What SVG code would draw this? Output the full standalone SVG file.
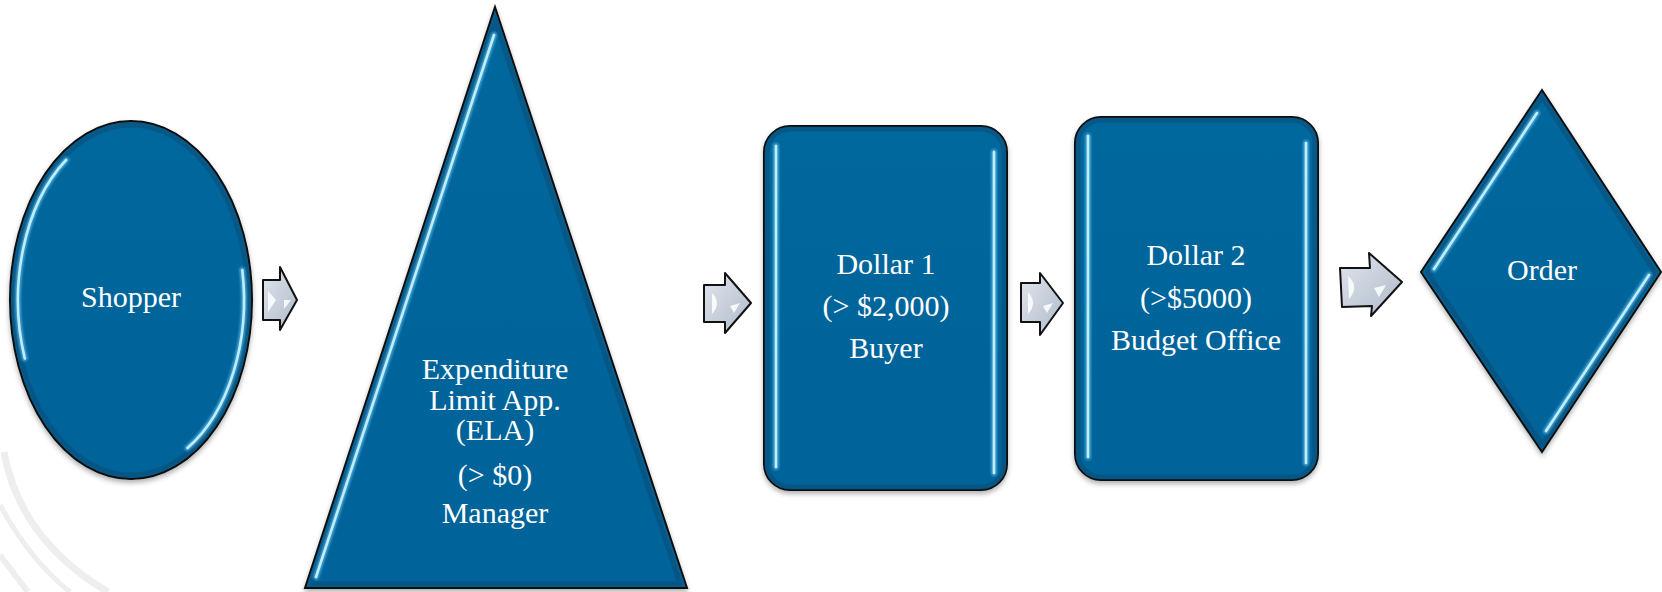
<svg xmlns="http://www.w3.org/2000/svg" width="1662" height="592" viewBox="0 0 1662 592">
<defs>
<style>
.shape{fill:url(#blueFill);stroke:#111;stroke-width:2;filter:url(#shadow)}
.edge{fill:none;stroke:#0b4c74;stroke-width:5;opacity:.55}
.hlw{fill:none;stroke:#5fb9e6;stroke-width:6;stroke-linecap:round;opacity:.7;filter:url(#glow)}
.hl{fill:none;stroke:#bdeeff;stroke-width:2.6;stroke-linecap:round}
.lbl{font-family:"Liberation Serif","DejaVu Serif",serif;font-size:30px;fill:#ffffff;text-anchor:middle}
.arrow{fill:url(#arrowFill);stroke:#111;stroke-width:2;stroke-linejoin:round}
.glint{fill:#ffffff;opacity:.85}
.bg{fill:none;stroke:#eeeeee;stroke-linecap:butt}
</style>
<linearGradient id="blueFill" x1="0" y1="0" x2="0" y2="1">
<stop offset="0" stop-color="#06679d"/>
<stop offset="1" stop-color="#056399"/>
</linearGradient>
<linearGradient id="arrowFill" x1="0" y1="0" x2="1" y2="1">
<stop offset="0" stop-color="#e1e6ee"/>
<stop offset="1" stop-color="#aeb9c9"/>
</linearGradient>
<filter id="shadow" x="-10%" y="-10%" width="120%" height="120%">
<feDropShadow dx="0" dy="3" stdDeviation="2.5" flood-color="#000" flood-opacity=".3"/>
</filter>
<filter id="glow" filterUnits="userSpaceOnUse" x="0" y="0" width="1662" height="592">
<feGaussianBlur stdDeviation="1.2"/>
</filter>
</defs>
<rect width="1662" height="592" fill="#ffffff"/>
<g id="background">
<path class="bg" stroke-width="7" d="M 4 452 Q 20 540 108 592"/>
<path class="bg" stroke-width="5" d="M 0 505 Q 30 560 70 592"/>
<path class="bg" stroke-width="6" d="M 0 555 Q 15 575 28 592"/>
</g>
<g id="node-shopper">
<ellipse class="shape" cx="131" cy="300" rx="121" ry="179"/>
<ellipse class="edge" cx="131" cy="300" rx="117" ry="175"/>
<path class="hlw" d="M 24.8 358.5 A 113 171 0 0 1 66.1 160"/>
<path class="hl" d="M 24.8 358.5 A 113 171 0 0 1 66.1 160"/>
<path class="hlw" d="M 242.3 270 A 113 171 0 0 1 187.5 448"/>
<path class="hl" d="M 242.3 270 A 113 171 0 0 1 187.5 448"/>
<text class="lbl" x="131" y="307">Shopper</text>
</g>
<g id="node-ela">
<polygon class="shape" points="495,7 687,588 305,588"/>
<polygon class="edge" points="495,20 680,584 312,584"/>
<path class="hlw" d="M 494 35 L 316 577"/>
<path class="hl" d="M 494 35 L 316 577"/>
<text class="lbl" x="495" y="379">Expenditure</text>
<text class="lbl" x="495" y="410">Limit App.</text>
<text class="lbl" x="495" y="440">(ELA)</text>
<text class="lbl" x="495" y="485">(&gt; $0)</text>
<text class="lbl" x="495" y="523">Manager</text>
</g>
<g id="node-dollar1">
<rect class="shape" x="764" y="126" width="243" height="364" rx="26"/>
<rect class="edge" x="767" y="129" width="237" height="358" rx="23"/>
<path class="hlw" d="M 776 146 L 776 467"/>
<path class="hl" d="M 776 146 L 776 467"/>
<path class="hlw" d="M 994 152 L 994 473"/>
<path class="hl" d="M 994 152 L 994 473"/>
<text class="lbl" x="886" y="274">Dollar 1</text>
<text class="lbl" x="886" y="316">(&gt; $2,000)</text>
<text class="lbl" x="886" y="358">Buyer</text>
</g>
<g id="node-dollar2">
<rect class="shape" x="1075" y="117" width="243" height="363" rx="26"/>
<rect class="edge" x="1078" y="120" width="237" height="357" rx="23"/>
<path class="hlw" d="M 1088 136 L 1088 457"/>
<path class="hl" d="M 1088 136 L 1088 457"/>
<path class="hlw" d="M 1306 143 L 1306 463"/>
<path class="hl" d="M 1306 143 L 1306 463"/>
<text class="lbl" x="1196" y="265">Dollar 2</text>
<text class="lbl" x="1196" y="308">(&gt;$5000)</text>
<text class="lbl" x="1196" y="350">Budget Office</text>
</g>
<g id="node-order">
<polygon class="shape" points="1542,90 1661,272 1542,452 1421,272"/>
<polygon class="edge" points="1542,97 1655,272 1542,445 1427,272"/>
<path class="hlw" d="M 1537 113 L 1434 269"/>
<path class="hl" d="M 1537 113 L 1434 269"/>
<path class="hlw" d="M 1649 275 L 1546 431"/>
<path class="hl" d="M 1649 275 L 1546 431"/>
<text class="lbl" x="1542" y="280">Order</text>
</g>
<g id="connectors">
<g id="arrow-1">
<polygon class="arrow" points="263,280 280,280 280,267 297,300 280,330 280,320 263,320"/>
<path class="glint" d="M 268 291 L 276 300 L 268 312 Z"/>
<path class="glint" d="M 284 300 L 291 300 L 284 309 Z"/>
</g>
<g id="arrow-2">
<polygon class="arrow" points="704,285 725,285 725,273 751,303 725,333 725,322 704,322"/>
<path class="glint" d="M 712 293 Q 722 303 712 314 Z"/>
<path class="glint" d="M 730 306 L 740 303 L 734 313 Z"/>
</g>
<g id="arrow-3">
<polygon class="arrow" points="1021,283 1040,283 1040,273 1063,303 1040,335 1040,322 1021,322"/>
<path class="glint" d="M 1028 292 Q 1038 303 1028 314 Z"/>
<path class="glint" d="M 1043 306 L 1053 303 L 1047 313 Z"/>
</g>
<g id="arrow-4">
<polygon class="arrow" points="1340,268 1370,268 1369,253 1402,282 1371,316 1372,306 1342,307"/>
<path class="glint" d="M 1348 276 Q 1360 287 1349 299 Z"/>
<path class="glint" d="M 1374 288 L 1386 285 L 1379 297 Z"/>
</g>
</g>
</svg>
